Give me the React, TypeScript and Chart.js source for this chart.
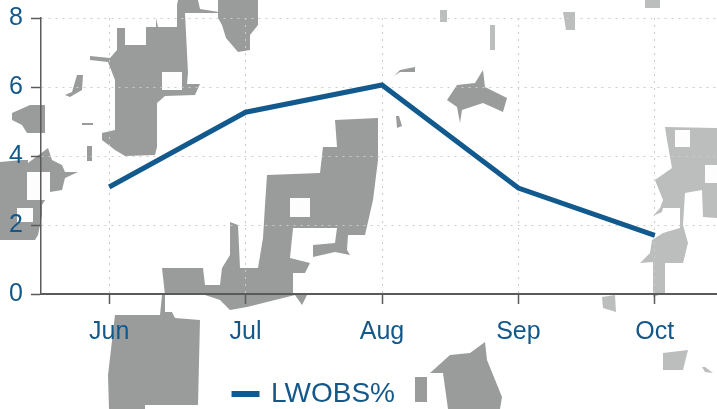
import React, { useEffect, useRef } from "react";
import { Chart, registerables } from "chart.js";

Chart.register(...registerables);

const categories = ["Jun", "Jul", "Aug", "Sep", "Oct"];
const lwobsValues = [3.1, 5.27, 6.06, 3.07, 1.7];
const yTicks = [0, 2, 4, 6, 8];

const BLUE = "#125a8e";
const TEXT = "#14588a";
const FONT = '"Liberation Sans", Arial, sans-serif';

// Scanned paper speckle behind the chart (decoration only, not data)
const darkBlots = [
  "117,28 125,28 125,45 146,45 146,27 156,27 156,18 158,27 177,27 177,5 178,0 198,0 200,9 219,12 219,13 185,13 188,73 187,84 200,84 195,95 165,96 157,103 157,147 155,155 125,156 115,150 102,140 102,133 115,130 115,80 108,62 90,60 90,56 110,58 117,50",
  "218,0 258,0 258,25 250,35 250,50 238,52 226,38 222,25 218,18",
  "12,113 30,105 45,105 45,133 27,133 22,125 12,120",
  "0,162 22,160 28,160 28,163 48,148 52,160 62,165 65,172 78,172 65,178 62,190 50,192 42,205 42,215 38,235 35,240 0,240",
  "65,95 72,92 77,75 83,75 82,90 70,97",
  "162,268 203,268 205,285 220,285 222,268 230,255 230,222 238,225 240,268 258,268 263,238 265,205 267,175 320,173 323,147 337,147 335,120 378,118 378,160 373,200 365,235 348,235 347,250 350,255 335,252 313,257 313,245 335,243 337,228 293,228 290,258 310,263 305,273 293,273 293,293 307,295 302,305 295,295 247,307 230,310 220,300 205,295 165,295",
  "115,315 160,315 162,295 165,295 165,312 172,312 175,318 200,320 198,405 145,405 145,409 109,409 108,375",
  "447,100 457,85 475,83 483,70 485,87 507,98 503,112 483,103 462,110 460,123 457,107",
  "450,355 470,353 485,342 487,360 502,397 500,409 448,409 443,373 430,373",
  "415,377 427,377 427,402 415,402",
  "394,76 400,70 415,67 415,72 400,72",
  "396,116 399,116 402,126 397,128",
  "82,123 93,123 93,125 82,125",
  "87,146 92,146 92,161 87,161",
];
const lightBlots = [
  "665,127 717,128 717,218 703,217 702,190 685,193 683,225 688,243 683,263 665,263 665,293 653,297 653,262 640,263 650,253 652,240 663,233 680,228 680,208 663,208 662,212 653,216 660,208 663,200 655,180 672,168 667,140",
  "602,297 615,295 616,312 603,308",
  "663,353 688,350 683,370 663,370",
  "702,367 705,367 713,373 705,372",
  "563,12 575,12 575,30 566,30",
  "645,0 660,0 660,8 645,8",
  "440,10 447,10 447,22 440,22",
  "490,25 495,25 495,50 490,50",
];
const holes = [
  "162,72 182,72 182,90 162,90",
  "27,172 50,172 50,200 27,200",
  "17,208 33,208 33,222 17,222",
  "290,198 310,198 310,217 290,217",
  "675,130 690,130 690,147 675,147",
  "705,165 717,165 717,183 705,183",
];

const legendShift = {
  id: "legendShift",
  afterLayout(chart: any) {
    chart.legend.left -= 94;
    chart.legend.top += 9;
    chart.legend.bottom += 9;
  },
};

export default function App() {
  const ref = useRef<HTMLCanvasElement>(null);

  useEffect(() => {
    const chart = new Chart(ref.current as HTMLCanvasElement, {
      type: "line",
      data: {
        labels: categories,
        datasets: [
          {
            label: "LWOBS%",
            data: lwobsValues,
            borderColor: BLUE,
            backgroundColor: BLUE,
            borderWidth: 5,
            pointRadius: 0,
            tension: 0,
            borderJoinStyle: "miter",
          },
        ],
      },
      plugins: [legendShift],
      options: {
        responsive: false,
        animation: false,
        layout: { padding: { top: 18, left: 0, right: 0, bottom: 0 } },
        plugins: {
          tooltip: { enabled: false },
          legend: {
            position: "bottom",
            labels: {
              boxWidth: 23,
              boxHeight: 1,
              padding: 2,
              color: TEXT,
              font: { family: FONT, size: 28 },
            },
          },
        },
        scales: {
          x: {
            offset: true,
            afterFit(scale: any) {
              scale.height = 75;
            },
            border: { color: "#5a5a5a", width: 2, dash: [2, 5] },
            grid: {
              offset: false,
              color: "#cccccc",
              tickColor: "#5a5a5a",
              tickLength: 10,
              lineWidth: 1,
              tickWidth: 1.5,
              tickBorderDash: [],
            },
            ticks: {
              color: TEXT,
              padding: 13,
              maxRotation: 0,
              font: { family: FONT, size: 25 },
            },
          },
          y: {
            min: 0,
            max: 8,
            afterFit(scale: any) {
              scale.width = 41;
              scale.paddingTop = 0;
            },
            afterBuildTicks(scale: any) {
              scale.ticks = yTicks.map((value) => ({ value }));
            },
            border: { color: "#5a5a5a", width: 1.5, dash: [2, 5] },
            grid: {
              color: "#cccccc",
              tickColor: "#5a5a5a",
              tickLength: 10,
              tickWidth: 1.5,
              lineWidth: 1,
              tickBorderDash: [],
            },
            ticks: {
              color: TEXT,
              padding: 8,
              font: { family: FONT, size: 25 },
            },
          },
        },
      },
    });
    return () => chart.destroy();
  }, []);

  return (
    <div style={{ position: "absolute", left: 0, top: 0, width: 717, height: 409, overflow: "hidden", background: "#fff" }}>
      <svg width={717} height={409} style={{ position: "absolute", left: 0, top: 0, filter: "blur(0.4px)" }}>
        {darkBlots.map((p, i) => <polygon key={"d" + i} points={p} fill="#9a9b9b" />)}
        {lightBlots.map((p, i) => <polygon key={"l" + i} points={p} fill="#bcbdbd" />)}
        {holes.map((p, i) => <polygon key={"h" + i} points={p} fill="#fdfdfd" />)}
      </svg>
      <canvas ref={ref} width={723} height={409} style={{ position: "absolute", left: 0, top: 0, display: "block" }} />
    </div>
  );
}
